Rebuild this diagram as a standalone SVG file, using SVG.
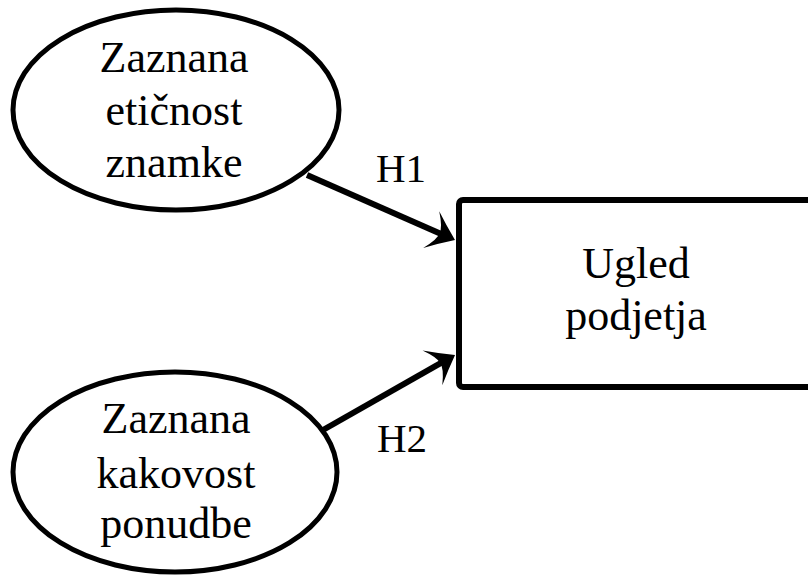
<svg xmlns="http://www.w3.org/2000/svg" width="808" height="578" viewBox="0 0 808 578">
<style>
.node{fill:#fff;stroke:#000;stroke-width:5}
.edge{stroke:#000;stroke-width:6;fill:none}
</style>
<defs>
<marker id="arr" markerUnits="userSpaceOnUse" markerWidth="40" markerHeight="44" viewBox="-36 -22 40 44" refX="-12" refY="0" orient="auto">
<path d="M0,0 Q-14,-10 -26,-20 Q-16,-6 -17,0 Q-16,6 -26,20 Q-14,10 0,0 Z" fill="#000"/>
</marker>
</defs>
<rect width="808" height="578" fill="#fff"/>
<g id="connectors">
<line class="edge" x1="307" y1="175" x2="444" y2="235.2" marker-end="url(#arr)"/>
<line class="edge" x1="323" y1="430" x2="444.6" y2="360.9" marker-end="url(#arr)"/>
<text x="401" y="182" font-family="Liberation Serif" font-size="41" text-anchor="middle">H1</text>
<text x="402" y="452" font-family="Liberation Serif" font-size="41" text-anchor="middle">H2</text>
</g>
<g id="n1">
<ellipse class="node" cx="176" cy="110" rx="163" ry="100"/>
<text x="174" y="72" font-family="Liberation Serif" font-size="44" text-anchor="middle">Zaznana</text>
<text x="174" y="125" font-family="Liberation Serif" font-size="44" text-anchor="middle">etičnost</text>
<text x="174" y="177" font-family="Liberation Serif" font-size="44" text-anchor="middle">znamke</text>
</g>
<g id="n2">
<ellipse class="node" cx="175" cy="472" rx="162" ry="100"/>
<text x="176" y="433" font-family="Liberation Serif" font-size="44" text-anchor="middle">Zaznana</text>
<text x="176" y="488" font-family="Liberation Serif" font-size="44" text-anchor="middle">kakovost</text>
<text x="176" y="538" font-family="Liberation Serif" font-size="44" text-anchor="middle">ponudbe</text>
</g>
<g id="n3">
<rect class="node" x="459" y="200" width="360" height="187" rx="4" style="stroke-width:6"/>
<text x="636" y="278" font-family="Liberation Serif" font-size="44" text-anchor="middle">Ugled</text>
<text x="636" y="330" font-family="Liberation Serif" font-size="44" text-anchor="middle">podjetja</text>
</g>
</svg>
